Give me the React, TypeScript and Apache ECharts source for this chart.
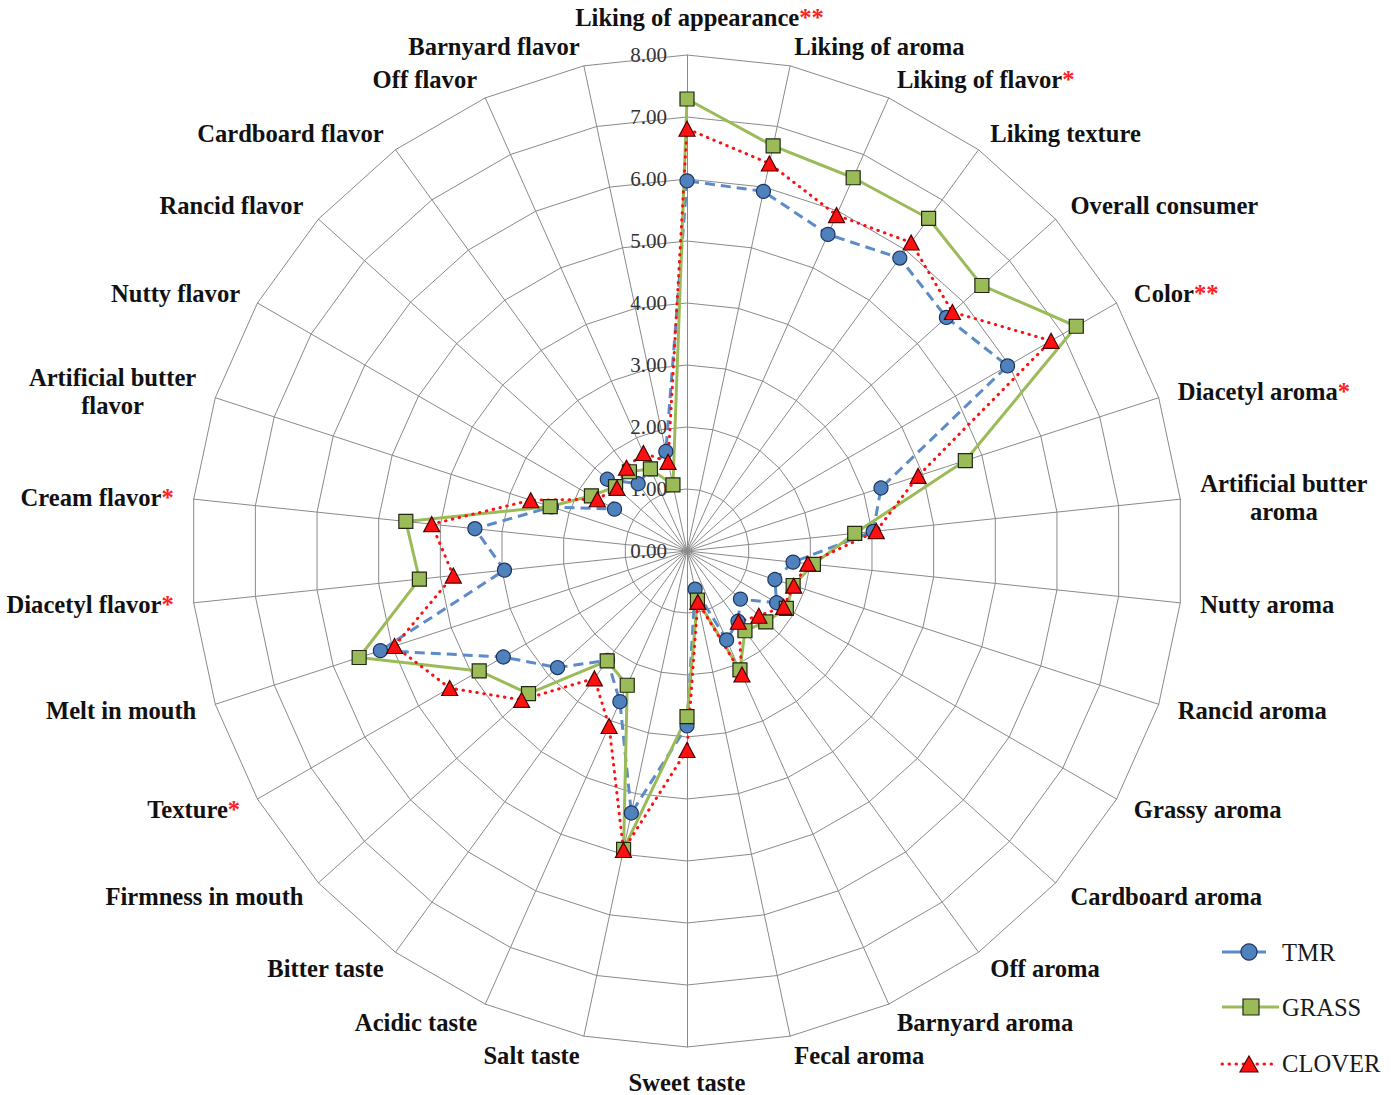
import React, { useEffect, useRef } from 'react';
import * as echarts from 'echarts';

// Sensory attributes, clockwise from the top of the web
const attributes = [
  'Liking of appearance', 'Liking of aroma', 'Liking of flavor', 'Liking texture', 'Overall consumer',
  'Color', 'Diacetyl aroma', 'Artificial butter aroma', 'Nutty aroma', 'Rancid aroma',
  'Grassy aroma', 'Cardboard aroma', 'Off aroma', 'Barnyard aroma', 'Fecal aroma',
  'Sweet taste', 'Salt taste', 'Acidic taste', 'Bitter taste', 'Firmness in mouth',
  'Texture', 'Melt in mouth', 'Diacetyl flavor', 'Cream flavor', 'Artificial butter flavor',
  'Nutty flavor', 'Rancid flavor', 'Cardboard flavor', 'Off flavor', 'Barnyard flavor',
];

// Significance markers shown after the attribute name
const significance = [
  '**', '', '*', '', '',
  '**', '*', '', '', '',
  '', '', '', '', '',
  '', '', '', '', '',
  '*', '', '*', '*', '',
  '', '', '', '', '',
];

const tmrValues = [
  5.97, 5.93, 5.59, 5.84, 5.63,
  5.97, 3.29, 3.02, 1.72, 1.49,
  1.67, 1.16, 1.40, 1.57, 0.63,
  2.82, 4.32, 2.66, 2.18, 2.81,
  3.42, 5.20, 2.96, 3.44, 2.30,
  1.35, 1.73, 1.34, 1.45, 1.64,
];

const grassValues = [
  7.29, 6.68, 6.59, 6.63, 6.40,
  7.25, 4.72, 2.72, 2.05, 1.80,
  1.85, 1.71, 1.59, 2.10, 0.81,
  2.67, 4.92, 2.37, 2.19, 3.44,
  3.87, 5.56, 4.34, 4.56, 2.32,
  1.78, 1.55, 1.58, 1.45, 1.09,
];

const cloverValues = [
  6.81, 6.39, 5.93, 6.15, 5.76,
  6.78, 3.92, 3.07, 1.96, 1.81,
  1.80, 1.56, 1.41, 2.18, 0.84,
  3.21, 4.93, 3.09, 2.54, 3.59,
  4.42, 4.96, 3.79, 4.14, 2.65,
  1.67, 1.52, 1.66, 1.73, 1.47,
];

const tickLabels = ['0.00', '1.00', '2.00', '3.00', '4.00', '5.00', '6.00', '7.00', '8.00'];

const SERIF = "'Liberation Serif', 'Times New Roman', serif";
const CX = 687;
const CY = 551;
const RADIUS = 496;
const NAME_SIZE = 24.6;

const TMR_LINE = '#5b8bc9';
const TMR_FILL = '#4f81bd';
const TMR_EDGE = '#1b3560';
const GRASS_COLOR = '#9bbb59';
const GRASS_EDGE = '#1e2812';
const CLOVER_COLOR = '#ff1010';
const CLOVER_EDGE = '#500000';

// ECharts lays radar indicators out counter-clockwise, so walk the list backwards after the first
const order = [0, ...attributes.map((_, i) => attributes.length - i).filter((i) => i < attributes.length)];
const reorder = (arr: number[]) => order.map((i) => arr[i]);

function formatName(name: string): string {
  const idx = attributes.indexOf(name);
  const stars = significance[idx] ? `{s|${significance[idx]}}` : '';
  if (name.startsWith('Artificial butter ')) {
    const rest = name.slice('Artificial butter '.length);
    return `{c|Artificial butter}\n{c|${rest}}`;
  }
  // the top label is centred on its words, with the stars hanging to the right
  if (idx === 0) return `{np|${name}}${stars}`;
  return `{n|${name}}${stars}`;
}

// Extra per-indicator settings for the vertical axes
function indicatorExtras(i: number) {
  if (i === 0) return { nameGap: 25, axisLabel: { show: true } };
  if (i === 15) return { nameGap: 23 };
  return {};
}

export default function App() {
  const ref = useRef<HTMLDivElement>(null);

  useEffect(() => {
    if (!ref.current) return;
    const chart = echarts.init(ref.current, undefined, { renderer: 'svg' });

    const nameStyle = { fontFamily: SERIF, fontWeight: 'bold' as const, fontSize: NAME_SIZE, color: '#111' };

    // Legend: line sample with marker and series name
    const lx0 = 1222;
    const legendText = (y: number, text: string) => ({
      type: 'text', x: 1282, y,
      style: { text, fontFamily: SERIF, fontSize: 24.6, fill: '#1a1a1a', verticalAlign: 'middle', align: 'left' },
    });
    const tY = 952, gY = 1007, cY = 1064;
    const triW = 18, triH = 16;
    const graphic = [
      { type: 'line', shape: { x1: lx0, y1: tY, x2: 1242, y2: tY }, style: { stroke: TMR_LINE, lineWidth: 3 } },
      { type: 'line', shape: { x1: 1256, y1: tY, x2: 1266, y2: tY }, style: { stroke: TMR_LINE, lineWidth: 3 } },
      { type: 'circle', shape: { cx: 1249, cy: tY, r: 8 }, style: { fill: TMR_FILL, stroke: TMR_EDGE, lineWidth: 1.2 } },
      legendText(tY, 'TMR'),
      { type: 'line', shape: { x1: lx0, y1: gY, x2: 1279, y2: gY }, style: { stroke: GRASS_COLOR, lineWidth: 3 } },
      { type: 'rect', shape: { x: 1243, y: gY - 8, width: 16, height: 16 }, style: { fill: GRASS_COLOR, stroke: GRASS_EDGE, lineWidth: 1.2 } },
      legendText(gY, 'GRASS'),
      { type: 'line', shape: { x1: lx0, y1: cY, x2: 1276, y2: cY }, style: { stroke: CLOVER_COLOR, lineWidth: 3, lineDash: [0.5, 6.5], lineCap: 'round' } },
      {
        type: 'polygon',
        shape: { points: [[1249, cY - triH / 2], [1249 + triW / 2, cY + triH / 2], [1249 - triW / 2, cY + triH / 2]] },
        style: { fill: CLOVER_COLOR, stroke: CLOVER_EDGE, lineWidth: 1.2 },
      },
      legendText(cY - 1, 'CLOVER'),
    ];

    chart.setOption({
      animation: false,
      backgroundColor: '#ffffff',
      radar: {
        center: [CX, CY],
        radius: RADIUS,
        startAngle: 90,
        shape: 'polygon',
        splitNumber: 8,
        nameGap: 20,
        axisName: {
          ...nameStyle,
          formatter: (name: string) => formatName(name),
          rich: {
            n: { ...nameStyle },
            np: { ...nameStyle, padding: [0, 0, 0, 25] },
            s: { ...nameStyle, color: '#ff2020' },
            c: { ...nameStyle, align: 'center', lineHeight: 28 },
          },
        },
        axisLine: { lineStyle: { color: '#8a8a8a', width: 1 } },
        splitLine: { lineStyle: { color: '#8a8a8a', width: 1 } },
        splitArea: { show: false },
        axisTick: { show: false },
        axisLabel: {
          show: false,
          margin: 20,
          fontFamily: SERIF,
          fontSize: 21,
          color: '#333',
          formatter: (v: number) => tickLabels[Math.round(v)] ?? '',
        },
        indicator: order.map((i) => ({
          name: attributes[i],
          min: 0,
          max: 8,
          ...indicatorExtras(i),
        })),
      },
      series: [
        {
          type: 'radar',
          data: [
            {
              name: 'TMR',
              value: reorder(tmrValues),
              symbol: 'circle',
              symbolSize: 14,
              lineStyle: { color: TMR_LINE, width: 3, type: [10, 6] },
              itemStyle: { color: TMR_FILL, borderColor: TMR_EDGE, borderWidth: 1.2 },
            },
            {
              name: 'GRASS',
              value: reorder(grassValues),
              symbol: 'rect',
              symbolSize: 14,
              lineStyle: { color: GRASS_COLOR, width: 3, type: 'solid' },
              itemStyle: { color: GRASS_COLOR, borderColor: GRASS_EDGE, borderWidth: 1.2 },
            },
            {
              name: 'CLOVER',
              value: reorder(cloverValues),
              symbol: 'triangle',
              symbolSize: [16, 15],
              lineStyle: { color: CLOVER_COLOR, width: 3, type: [0.5, 6.5], cap: 'round' },
              itemStyle: { color: CLOVER_COLOR, borderColor: CLOVER_EDGE, borderWidth: 1.2 },
            },
          ],
        },
      ],
      graphic,
    });

    return () => chart.dispose();
  }, []);

  return <div ref={ref} style={{ position: 'absolute', left: 0, top: 0, width: 1393, height: 1095 }} />;
}
